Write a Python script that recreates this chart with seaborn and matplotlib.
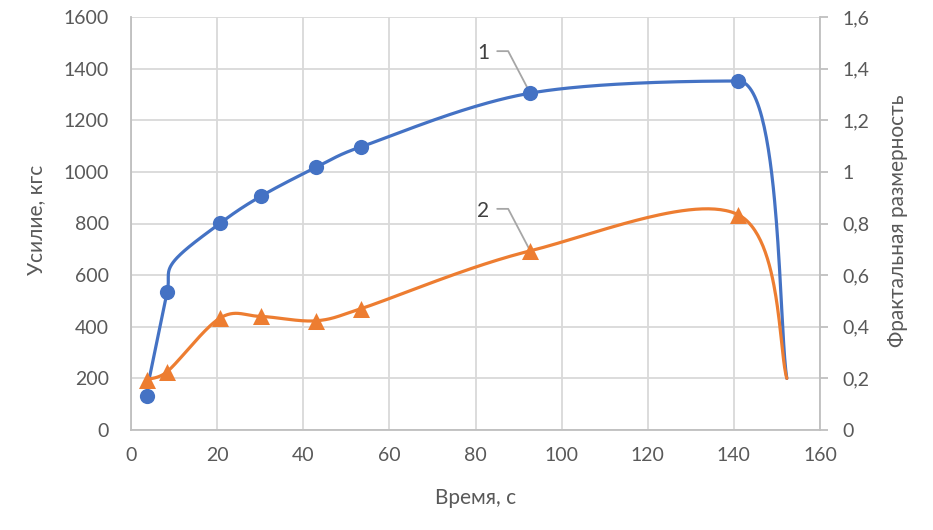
import numpy as np
import pandas as pd
import matplotlib
matplotlib.use("Agg")
import matplotlib.pyplot as plt
import seaborn as sns
from matplotlib.ticker import FuncFormatter

# ---------------- data ----------------
time_pts = [3.6, 8.4, 20.7, 30.1, 42.9, 53.4, 92.7, 141.0]          # s
force = [132, 534, 801, 905, 1017, 1097, 1305, 1352]                  # кгс (markers)
fractal = [0.195, 0.226, 0.434, 0.440, 0.423, 0.470, 0.694, 0.834]   # фрактальная размерность
force_line_start = [4.25, 200]      # where curve 1 begins (no marker)
force_line_knee = [9.9, 652]        # knee of curve 1 (no marker)
time_end = 152.3
force_end = 200
fractal_end = 0.200

x_ticks = [0, 20, 40, 60, 80, 100, 120, 140, 160]
left_ticks = [0, 200, 400, 600, 800, 1000, 1200, 1400, 1600]
right_ticks = [0, 0.2, 0.4, 0.6, 0.8, 1.0, 1.2, 1.4, 1.6]

BLUE = "#4472C4"
ORANGE = "#ED7D31"
GRID = "#D9D9D9"
AXIS = "#BFBFBF"
TXT = "#595959"


def excel_smooth(a, xs, ys, flat_extrema=False, n=60):
    """Bezier smoothing in screen space, similar to Excel's smoothed line."""
    p = a.transData.transform(np.column_stack([xs, ys]).astype(float))
    N = len(p)
    m = np.zeros_like(p)
    for i in range(N):
        m[i] = (p[min(i + 1, N - 1)] - p[max(i - 1, 0)]) / 6.0
        if flat_extrema and 0 < i < N - 1:
            if (p[i, 1] - p[i - 1, 1]) * (p[i + 1, 1] - p[i, 1]) < 0:
                m[i, 1] = 0.0
    t = np.linspace(0, 1, n)[:, None]
    out = []
    for i in range(N - 1):
        p0, p3 = p[i], p[i + 1]
        d = np.hypot(*(p3 - p0))
        m0, m1 = m[i].copy(), m[i + 1].copy()
        for mm in (m0, m1):
            L = np.hypot(*mm)
            if L > d / 2 and L > 0:
                mm *= (d / 2) / L
        c1, c2 = p0 + m0, p3 - m1
        seg = ((1 - t) ** 3) * p0 + 3 * ((1 - t) ** 2) * t * c1 + 3 * (1 - t) * t ** 2 * c2 + t ** 3 * p3
        out.append(seg if i == 0 else seg[1:])
    s = a.transData.inverted().transform(np.vstack(out))
    return s[:, 0], s[:, 1]


sns.set_theme(style="white")
plt.rcParams["font.family"] = ["Lato", "DejaVu Sans"]

fig = plt.figure(figsize=(9.33, 5.30), dpi=100)
ax = fig.add_axes([131 / 933, 1 - 430 / 530, 689 / 933, 413 / 530])
ax2 = ax.twinx()

# axes limits / ticks
ax.set_xlim(0, 160)
ax.set_ylim(0, 1600)
ax2.set_ylim(0, 1.6)
ax2.set_xlim(0, 160)
ax.set_xticks(x_ticks)
ax.set_yticks(left_ticks)
ax2.set_yticks(right_ticks)
ax2.yaxis.set_major_formatter(FuncFormatter(lambda v, p: f"{v:.1f}".rstrip("0").rstrip(".").replace(".", ",")))
fig.canvas.draw()

# smoothed curves
bx = [force_line_start[0], time_pts[1], force_line_knee[0]] + time_pts[2:] + [time_end]
by = [force_line_start[1], force[1], force_line_knee[1]] + force[2:] + [force_end]
sx, sy = excel_smooth(ax, bx, by, flat_extrema=True)
sns.lineplot(x=sx, y=sy, ax=ax, sort=False, color=BLUE, lw=2.3, estimator=None)
sns.scatterplot(x=time_pts, y=force, ax=ax, color=BLUE, s=120, marker="o", edgecolor=BLUE,
                linewidth=0, zorder=5)

ox = time_pts + [time_end]
oy = fractal + [fractal_end]
qx, qy = excel_smooth(ax2, ox, oy)
sns.lineplot(x=qx, y=qy, ax=ax2, sort=False, color=ORANGE, lw=2.3, estimator=None)
sns.scatterplot(x=time_pts, y=fractal, ax=ax2, color=ORANGE, s=150, marker="^", edgecolor=ORANGE,
                linewidth=0, zorder=5)

ax.set_xlim(0, 160)
ax.set_ylim(0, 1600)
ax2.set_ylim(0, 1.6)

ax.grid(True, color=GRID, lw=1.3)
ax.set_axisbelow(True)
ax2.grid(False)

for a in (ax, ax2):
    a.spines["top"].set_visible(False)
    for side in ("left", "right", "bottom"):
        a.spines[side].set_color(AXIS)
        a.spines[side].set_linewidth(1.3)
ax.spines["right"].set_visible(False)
ax2.spines["left"].set_visible(False)
ax2.spines["bottom"].set_visible(False)

ax.tick_params(axis="both", length=0, labelsize=14, colors=TXT)
ax.tick_params(axis="y", pad=16)
ax.tick_params(axis="x", pad=12)
ax2.tick_params(axis="y", length=6, width=1.3, color=AXIS, labelsize=14, labelcolor=TXT, pad=10,
                direction="out")

ax.set_xlabel("Время, с", fontsize=15, color=TXT, va="center", ha="center")
ax.xaxis.set_label_coords(0.5007, -0.165)
ax.set_ylabel("Усилие, кгс", fontsize=15, color=TXT, va="center", ha="center")
ax.yaxis.set_label_coords(-0.138, 0.508)
ax2.set_ylabel("Фрактальная размерность", fontsize=15, color=TXT, va="center", ha="center",
               rotation=90)
ax2.yaxis.set_label_coords(1.113, 0.508)

fig.canvas.draw()


def leader(a, x, y, label):
    px, py = a.transData.transform((x, y))
    verts = np.array([[px, py], [px - 22, py + 42], [px - 33, py + 42]])
    dv = a.transData.inverted().transform(verts)
    a.plot(dv[:, 0], dv[:, 1], color="#A6A6A6", lw=1.3, zorder=4)
    tx, ty = a.transData.inverted().transform((px - 47, py + 40))
    a.text(tx, ty, label, fontsize=15, color="#404040", ha="center", va="center")


leader(ax, time_pts[6], force[6], "1")
leader(ax2, time_pts[6], fractal[6], "2")

fig.savefig("out.png", dpi=100)
